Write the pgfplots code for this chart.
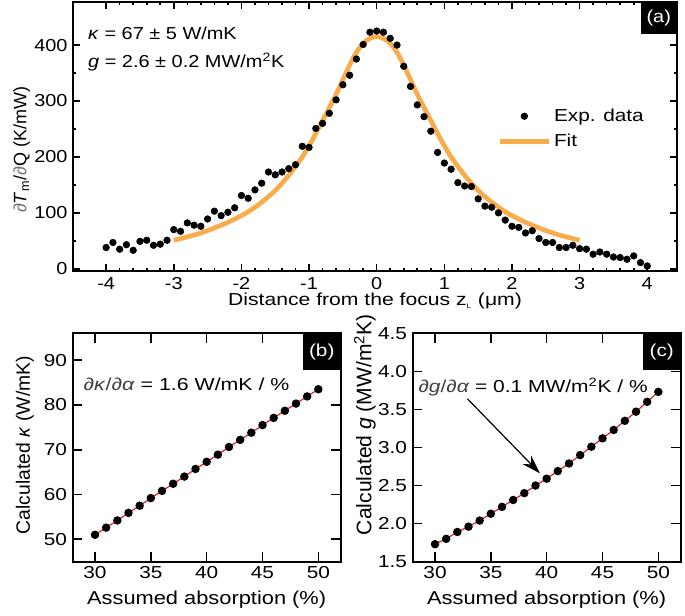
\documentclass[border=0pt]{standalone}
\usepackage{fontspec}
\setmainfont{Liberation Sans}
\usepackage{graphicx}
\usepackage{pgfplots}
\pgfplotsset{compat=1.18}
\usetikzlibrary{arrows.meta}

\definecolor{fitorange}{RGB}{248,172,76}
\definecolor{linered}{RGB}{228,32,36}

\pgfplotsset{
  every axis/.append style={
    font=\fontsize{13}{15.6}\selectfont,
    scale only axis,
    axis line style={line width=1.6pt},
    tick style={line width=1.2pt, black},
    tick align=inside,
    /pgf/number format/assume math mode=true,
  },
}

\begin{document}
\begin{tikzpicture}
\useasboundingbox (0,0) rectangle (513.75pt,461.25pt);

% (a) profile
\begin{axis}[
  at={(54.75pt,258pt)}, anchor=south west,
  width=453pt, height=201.75pt,
  xmin=-4.49, xmax=4.44, ymin=-4, ymax=477,
  xtick={-4,-3,...,4}, ytick={0,100,200,300,400},
  minor x tick num=4, minor y tick num=1,
  major tick length=5pt, minor tick length=2.5pt,
  xticklabel style={xscale=1.15, yshift=-1.5pt},
  yticklabel style={xscale=1.15},
  xlabel={\scalebox{1.22}[1]{Distance from the focus z\textsubscript{\tiny L} (μm)}},
  every axis x label/.style={at={(axis description cs:0.5,-0.112)}, anchor=center},
  ylabel={\fontsize{13.5}{16}\selectfont\textcolor{black!55}{∂}\textit{T}\textsubscript{m}/\textcolor{black!55}{∂}Q (K/mW)},
  every axis y label/.style={at={(axis description cs:-0.085,0.45)}, rotate=90, anchor=center},
  legend style={draw=none, fill=none, at={(axis cs:1.78,291)}, anchor=north west,
    inner sep=0pt, row sep=4pt},
  legend cell align=left,
  legend image code/.code={\draw[mark repeat=2,mark phase=2,#1] plot coordinates {(0cm,0cm) (0.65cm,0cm) (1.3cm,0cm)};},
]
\addplot[only marks, mark=*, mark size=2.5pt, black] coordinates {
(-4.0,38) (-3.9,47) (-3.8,35) (-3.7,43) (-3.6,33) (-3.5,49) (-3.4,51) (-3.3,42) (-3.2,44) (-3.1,51)
(-3.0,70) (-2.9,67) (-2.8,82) (-2.7,78) (-2.6,76) (-2.5,89) (-2.4,103) (-2.3,95) (-2.2,101) (-2.1,109)
(-2.0,131) (-1.9,126) (-1.8,141) (-1.7,153) (-1.6,173) (-1.5,168) (-1.4,173) (-1.3,179) (-1.2,186) (-1.1,219)
(-1.0,217) (-0.9,251) (-0.8,260) (-0.7,278) (-0.6,302) (-0.5,329) (-0.4,346) (-0.3,375) (-0.2,401) (-0.1,423)
(0.0,425) (0.1,423) (0.2,412) (0.3,400) (0.4,362) (0.5,326) (0.6,293) (0.7,272) (0.8,246) (0.9,208)
(1.0,189) (1.1,178) (1.2,154) (1.3,148) (1.4,147) (1.5,125) (1.6,112) (1.7,110) (1.8,100) (1.9,87)
(2.0,76) (2.1,74) (2.2,64) (2.3,68) (2.4,54) (2.5,47) (2.6,47) (2.7,38) (2.8,38) (2.9,42)
(3.0,36) (3.1,35) (3.2,26) (3.3,30) (3.4,26) (3.5,21) (3.6,20) (3.7,17) (3.8,23) (3.9,11) (4.0,5)
};
\addlegendentry{\scalebox{1.2}[1]{Exp. data}}
\addplot[fitorange, line width=3.5pt, smooth, no marks] coordinates {
(-3.0,51) (-2.8,57) (-2.6,64) (-2.4,73) (-2.2,83) (-2.0,95) (-1.9,102) (-1.8,110) (-1.7,119) (-1.6,129)
(-1.5,140) (-1.4,153) (-1.3,167) (-1.2,183) (-1.1,200) (-1.0,220) (-0.9,242) (-0.8,265) (-0.7,288) (-0.6,312)
(-0.5,338) (-0.4,364) (-0.3,387) (-0.2,403) (-0.1,412) (0.0,415) (0.1,412) (0.2,403) (0.3,387) (0.4,364)
(0.5,338) (0.6,312) (0.7,288) (0.8,265) (0.9,242) (1.0,220) (1.1,200) (1.2,183) (1.3,167) (1.4,153)
(1.5,140) (1.6,129) (1.7,119) (1.8,110) (1.9,102) (2.0,95) (2.2,83) (2.4,73) (2.6,64) (2.8,57) (3.0,51)
};
\addlegendentry{\scalebox{1.2}[1]{Fit}}
\node[anchor=west, inner sep=0pt, xscale=1.15] at (axis cs:-4.27,421) {\textit{κ} = 67 ± 5 W/mK};
\node[anchor=west, inner sep=0pt, xscale=1.15] at (axis cs:-4.27,370) {\textit{g} = 2.6 ± 0.2 MW/m\textsuperscript{2}K};
\node[anchor=north east, fill=black, text=white, minimum width=27pt, minimum height=23.5pt, inner sep=0pt]
  at (rel axis cs:1,1) {\scalebox{1.15}[1]{(a)}};
\end{axis}

% (b) kappa
\begin{axis}[
  at={(54.5pt,40pt)}, anchor=south west,
  width=201pt, height=171.3pt,
  xmin=28, xmax=52, ymin=45, ymax=96,
  xtick={30,35,...,50}, ytick={50,60,...,90},
  major tick length=7pt,
  xticklabel style={xscale=1.2},
  yticklabel style={xscale=1.2},
  xlabel={\fontsize{14}{17}\selectfont\scalebox{1.17}[1]{Assumed absorption (\%)}},
  every axis x label/.style={at={(axis description cs:0.5,-0.168)}, anchor=center},
  ylabel={\fontsize{14.5}{17}\selectfont Calculated \textit{κ} (W/mK)},
  every axis y label/.style={at={(axis description cs:-0.178,0.51)}, rotate=90, anchor=center},
]
\addplot[linered, line width=0.9pt, mark=*, mark size=2.7pt, mark options={black, fill=black}] coordinates {
(30,51.0) (31,52.6) (32,54.2) (33,55.9) (34,57.5) (35,59.2) (36,60.8) (37,62.4) (38,64.0) (39,65.7)
(40,67.3) (41,68.9) (42,70.6) (43,72.2) (44,73.8) (45,75.5) (46,77.1) (47,78.7) (48,80.3) (49,81.9) (50,83.5)
};
\node[anchor=west, inner sep=0pt, xscale=1.23] at (axis cs:28.95,84.5) {\textcolor{black!75}{∂\textit{κ}/∂\textit{α}} = 1.6 W/mK / \%};
\node[anchor=north east, fill=black, text=white, minimum width=28pt, minimum height=27pt, inner sep=0pt]
  at (rel axis cs:1,1) {\scalebox{1.2}[1]{(b)}};
\end{axis}

% (c) g
\begin{axis}[
  at={(309.5pt,40pt)}, anchor=south west,
  width=201pt, height=171.3pt,
  xmin=28, xmax=52, ymin=1.5, ymax=4.5,
  xtick={30,35,...,50}, ytick={1.5,2.0,...,4.5},
  yticklabel style={/pgf/number format/fixed, /pgf/number format/fixed zerofill, /pgf/number format/precision=1, xscale=1.2},
  xticklabel style={xscale=1.2},
  major tick length=7pt,
  xlabel={\fontsize{14}{17}\selectfont\scalebox{1.17}[1]{Assumed absorption (\%)}},
  every axis x label/.style={at={(axis description cs:0.5,-0.168)}, anchor=center},
  ylabel={\fontsize{15.8}{18}\selectfont Calculated \textit{g} (MW/m\textsuperscript{2}K)},
  every axis y label/.style={at={(axis description cs:-0.178,0.6)}, rotate=90, anchor=center},
]
\addplot[linered, line width=0.9pt, mark=*, mark size=2.7pt, mark options={black, fill=black}] coordinates {
(30,1.73) (31,1.80) (32,1.89) (33,1.96) (34,2.04) (35,2.13) (36,2.22) (37,2.31) (38,2.40) (39,2.50)
(40,2.59) (41,2.69) (42,2.79) (43,2.90) (44,3.01) (45,3.12) (46,3.23) (47,3.35) (48,3.47) (49,3.60) (50,3.73)
};
\node[anchor=west, inner sep=0pt, xscale=1.21] at (axis cs:28.5,3.79) {\textcolor{black!75}{∂\textit{g}/∂\textit{α}} = 0.1 MW/m\textsuperscript{2}K / \%};
\draw[-{Stealth[length=14pt,width=9pt]}, line width=0.9pt] (axis cs:32.9,3.64) -- (axis cs:39.4,2.66);
\node[anchor=north east, fill=black, text=white, minimum width=28pt, minimum height=27pt, inner sep=0pt]
  at (rel axis cs:1,1) {\scalebox{1.2}[1]{(c)}};
\end{axis}
\end{tikzpicture}
\end{document}
